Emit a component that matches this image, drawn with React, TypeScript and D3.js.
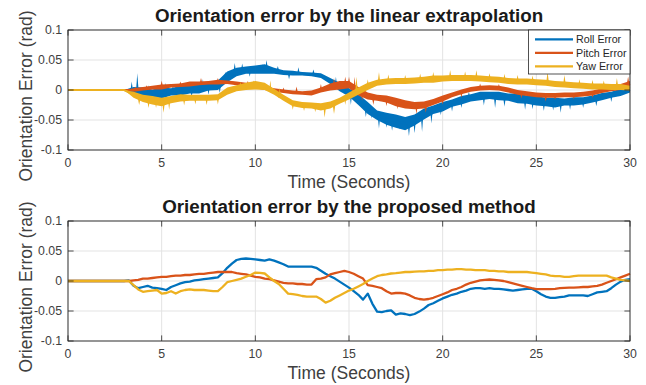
import React, { useEffect, useRef } from "react";
import * as d3 from "d3";

// sample times (seconds)
const topTime = d3.range(0, 30.001, 0.5);
const bottomTime = d3.range(0, 30.001, 0.25);

const seriesNames = ["Roll Error", "Pitch Error", "Yaw Error"];
const seriesColors = ["#0072BD", "#D95319", "#EDB120"];
const titles = [
  "Orientation error by the linear extrapolation",
  "Orientation error by the proposed method",
];
const xTicks = [0, 5, 10, 15, 20, 25, 30];
const yTicks = [-0.1, -0.05, 0, 0.05, 0.1];
const yTickLabels = ["-0.1", "-0.05", "0", "0.05", "0.1"];

// top panel: noisy signals, mean level + half spread every 0.5 s
const rollTop = [
  0, 0, 0, 0, 0, 0, 0, -0.002, -0.004, -0.005, -0.005, -0.003, -0.001, 0.001,
  0.003, 0.005, 0.008, 0.022, 0.03, 0.033, 0.034, 0.035, 0.032, 0.029, 0.028,
  0.027, 0.026, 0.024, 0.015, 0.005, -0.004, -0.016, -0.03, -0.042, -0.048,
  -0.052, -0.056, -0.05, -0.04, -0.033, -0.028, -0.022, -0.017, -0.013, -0.01,
  -0.009, -0.01, -0.012, -0.014, -0.016, -0.018, -0.02, -0.021, -0.02, -0.019,
  -0.018, -0.015, -0.011, -0.008, -0.004, 0,
];
const pitchTop = [
  0, 0, 0, 0, 0, 0, 0, 0, 0.002, 0.004, 0.005, 0.007, 0.008, 0.01, 0.011,
  0.012, 0.013, 0.013, 0.011, 0.009, 0.006, 0.003, 0, -0.002, -0.004, -0.005,
  -0.005, 0, 0.005, 0.008, 0.009, -0.002, -0.01, -0.013, -0.015, -0.02, -0.024,
  -0.026, -0.025, -0.02, -0.014, -0.008, -0.003, 0.001, 0.003, 0.004, 0.003, 0,
  -0.004, -0.006, -0.008, -0.009, -0.009, -0.008, -0.008, -0.007, -0.005,
  -0.001, 0.002, 0.005, 0.01,
];
const yawTop = [
  0, 0, 0, 0, 0, 0, 0, -0.008, -0.014, -0.017, -0.02, -0.016, -0.013, -0.013,
  -0.013, -0.013, -0.012, -0.002, 0.003, 0.006, 0.008, 0.006, -0.003, -0.013,
  -0.022, -0.025, -0.026, -0.028, -0.025, -0.018, -0.01, -0.002, 0.006, 0.012,
  0.014, 0.015, 0.015, 0.016, 0.017, 0.018, 0.019, 0.02, 0.02, 0.02, 0.019,
  0.018, 0.017, 0.015, 0.014, 0.014, 0.013, 0.012, 0.01, 0.009, 0.008, 0.007,
  0.006, 0.006, 0.005, 0.005, 0.003,
];
const rollTopSpread = [
  0, 0, 0, 0, 0, 0, 0, 0.007, 0.008, 0.006, 0.009, 0.006, 0.008, 0.007, 0.009,
  0.006, 0.008, 0.009, 0.007, 0.006, 0.007, 0.008, 0.005, 0.004, 0.004, 0.003,
  0.003, 0.004, 0.005, 0.007, 0.007, 0.009, 0.01, 0.008, 0.01, 0.011, 0.011,
  0.009, 0.009, 0.007, 0.008, 0.006, 0.007, 0.006, 0.007, 0.006, 0.007, 0.006,
  0.008, 0.007, 0.008, 0.007, 0.008, 0.006, 0.007, 0.006, 0.006, 0.006, 0.005,
  0.006, 0.004,
];
const pitchTopSpread = [
  0, 0, 0, 0, 0, 0, 0, 0.003, 0.003, 0.003, 0.004, 0.003, 0.003, 0.004, 0.003,
  0.003, 0.004, 0.003, 0.003, 0.003, 0.003, 0.003, 0.003, 0.003, 0.003, 0.003,
  0.004, 0.004, 0.006, 0.007, 0.006, 0.007, 0.006, 0.005, 0.006, 0.007, 0.007,
  0.006, 0.006, 0.005, 0.005, 0.004, 0.004, 0.004, 0.004, 0.004, 0.004, 0.004,
  0.004, 0.004, 0.004, 0.004, 0.004, 0.004, 0.004, 0.004, 0.004, 0.004, 0.004,
  0.005, 0.005,
];
const yawTopSpread = [
  0, 0, 0, 0, 0, 0, 0, 0.005, 0.006, 0.007, 0.007, 0.006, 0.006, 0.005, 0.005,
  0.005, 0.005, 0.006, 0.005, 0.006, 0.007, 0.006, 0.005, 0.005, 0.005, 0.005,
  0.005, 0.006, 0.006, 0.005, 0.006, 0.006, 0.006, 0.005, 0.005, 0.005, 0.005,
  0.005, 0.005, 0.006, 0.005, 0.005, 0.005, 0.005, 0.005, 0.005, 0.005, 0.005,
  0.005, 0.005, 0.005, 0.005, 0.005, 0.005, 0.005, 0.005, 0.005, 0.005, 0.005,
  0.005, 0.004,
];

// single spikes sticking out of the top-panel noise
const rollSpikeT = [
  3.4, 3.7, 4.0, 4.3, 4.6, 4.9, 5.2, 5.6, 5.9, 6.3, 6.6, 7.2, 7.5, 7.8, 8.1,
  8.4, 8.9, 9.3, 9.7, 10.4, 10.6, 11.2, 11.8, 12.3, 13.1, 14.3, 15.1, 15.9,
  16.2, 16.6, 17.0, 17.3, 17.7, 18.2, 18.5, 18.9, 19.4, 19.9, 20.5, 21.0, 21.4,
  22.2, 22.8, 23.3, 23.9, 24.4, 24.8, 25.4, 25.9, 26.3, 26.8, 27.5, 28.2, 29.0,
  29.6,
];
const rollSpikeV = [
  0.014, 0.028, -0.018, 0.008, -0.022, -0.02, 0.012, 0.008, -0.016, 0.012,
  -0.012, 0.018, -0.008, 0.016, -0.005, 0.03, 0.045, 0.044, 0.022, 0.043, 0.05,
  0.04, 0.018, 0.038, 0.034, 0.022, -0.025, -0.045, -0.048, -0.064, -0.063,
  -0.068, -0.066, -0.077, -0.072, -0.07, -0.056, -0.042, -0.036, -0.03, -0.003,
  -0.026, -0.03, -0.028, 0.0, -0.033, -0.032, -0.035, -0.034, -0.038, -0.033,
  -0.03, -0.027, -0.02, 0.006,
];
const pitchSpikeT = [
  3.6, 4.2, 5.0, 6.0, 7.1, 8.0, 9.6, 10.3, 11.5, 12.2, 13.5, 14.2, 14.8, 15.0,
  15.3, 15.7, 16.3, 17.0, 17.6, 18.6, 19.1, 20.0, 21.0, 22.0, 23.0, 24.2, 25.5,
  26.0, 27.0, 28.0, 28.7, 29.9,
];
const pitchSpikeV = [
  0.006, 0.008, 0.016, 0.014, 0.02, 0.02, 0.015, 0.01, 0.004, 0.006, 0.01, 0.02,
  0.022, 0.022, 0.022, -0.018, -0.025, -0.027, -0.032, -0.04, -0.038, -0.024,
  -0.013, 0.011, 0.01, -0.014, -0.019, -0.016, -0.015, -0.013, 0.003, 0.022,
];
const yawSpikeT = [
  3.8, 4.3, 4.7, 5.1, 5.4, 6.2, 6.8, 7.4, 8.0, 9.2, 9.9, 10.8, 11.3, 12.0, 12.6,
  13.2, 13.7, 14.2, 14.8, 15.4, 16.0, 16.6, 17.1, 18.0, 18.8, 19.5, 20.4, 21.2,
  21.8, 22.5, 23.3, 24.0, 24.8, 25.6, 26.5, 27.3, 28.0, 28.6, 29.3,
];
const yawSpikeV = [
  -0.025, -0.03, -0.03, -0.038, -0.033, -0.026, -0.024, -0.025, -0.024, 0.014,
  0.016, 0.016, 0.004, -0.033, -0.035, -0.037, -0.046, -0.04, -0.025, 0.022,
  0.018, 0.03, 0.026, 0.025, 0.027, 0.03, 0.033, 0.031, 0.033, 0.028, 0.027,
  0.025, 0.024, 0.03, 0.025, 0.018, 0.017, 0.016, 0.02,
];

// bottom panel, every 0.25 s (one line per second)
const rollBottom = [
  0, 0, 0, 0,
  0, 0, 0, 0,
  0, 0, 0, 0,
  0, 0.001, -0.008, -0.012,
  -0.01, -0.008, -0.011, -0.012,
  -0.013, -0.015, -0.01, -0.007,
  -0.004, -0.002, -0.001, 0.001,
  0.002, 0.003, 0.004, 0.005,
  0.006, 0.013, 0.022, 0.029,
  0.035, 0.037, 0.0375, 0.037,
  0.036, 0.035, 0.034, 0.036,
  0.034, 0.031, 0.028, 0.024,
  0.024, 0.024, 0.024, 0.024,
  0.024, 0.022, 0.017, 0.012,
  0.008, 0.004, -0.001, -0.006,
  -0.011, -0.017, -0.023, -0.031,
  -0.021, -0.038, -0.051, -0.052,
  -0.05, -0.049, -0.056, -0.054,
  -0.055, -0.057, -0.055, -0.051,
  -0.046, -0.04, -0.037, -0.033,
  -0.029, -0.026, -0.023, -0.021,
  -0.018, -0.016, -0.013, -0.012,
  -0.012, -0.013, -0.012, -0.013,
  -0.013, -0.014, -0.015, -0.016,
  -0.015, -0.014, -0.013, -0.013,
  -0.017, -0.022, -0.026, -0.028,
  -0.028, -0.027, -0.026, -0.024,
  -0.024, -0.024, -0.024, -0.025,
  -0.022, -0.019, -0.018, -0.017,
  -0.012, -0.006, -0.001, 0.002,
  0.003,
];
const pitchBottom = [
  0, 0, 0, 0,
  0, 0, 0, 0,
  0, 0, 0, 0,
  0, 0, 0.001, 0.002,
  0.004, 0.004, 0.005, 0.006,
  0.007, 0.007, 0.008, 0.009,
  0.009, 0.01, 0.01, 0.011,
  0.012, 0.012, 0.013, 0.014,
  0.015, 0.015, 0.015, 0.015,
  0.013, 0.012, 0.011, 0.009,
  0.007, 0.006, 0.004, 0.003,
  0.001, -0.001, -0.003, -0.004,
  -0.004, -0.005, -0.005, -0.006,
  -0.006, 0.003, 0.004, 0.006,
  0.011, 0.013, 0.015, 0.017,
  0.015, 0.012, 0.008, 0.004,
  -0.007, -0.008, -0.01, -0.012,
  -0.017, -0.021, -0.02, -0.02,
  -0.021, -0.024, -0.028, -0.03,
  -0.031, -0.03, -0.028, -0.025,
  -0.022, -0.019, -0.015, -0.013,
  -0.01, -0.006, -0.003, -0.001,
  0.001, 0.002, 0.0025, 0.002,
  0.001, 0, -0.002, -0.004,
  -0.006, -0.008, -0.01, -0.012,
  -0.0135, -0.0137, -0.0137, -0.0135,
  -0.013, -0.012, -0.0115, -0.011,
  -0.011, -0.0105, -0.01, -0.01,
  -0.009, -0.008, -0.006, -0.003,
  0, 0.003, 0.006, 0.009,
  0.012,
];
const yawBottom = [
  0, 0, 0, 0,
  0, 0, 0, 0,
  0, 0, 0, 0,
  0, 0, -0.007, -0.014,
  -0.018, -0.017, -0.016, -0.015,
  -0.021, -0.02, -0.017, -0.021,
  -0.017, -0.015, -0.014, -0.015,
  -0.015, -0.015, -0.016, -0.017,
  -0.017, -0.01, -0.002, 0,
  0.002, 0.004, 0.007, 0.01,
  0.014, 0.0135, 0.0125, 0.006,
  0, -0.005, -0.013, -0.021,
  -0.022, -0.023, -0.025, -0.026,
  -0.026, -0.026, -0.03, -0.036,
  -0.033, -0.028, -0.024, -0.02,
  -0.016, -0.013, -0.009, -0.005,
  0, 0.004, 0.008, 0.01,
  0.011, 0.0125, 0.013, 0.014,
  0.015, 0.015, 0.0155, 0.016,
  0.016, 0.017, 0.017, 0.018,
  0.018, 0.019, 0.019, 0.0197,
  0.0197, 0.019, 0.019, 0.018,
  0.018, 0.018, 0.017, 0.017,
  0.016, 0.016, 0.015, 0.015,
  0.015, 0.015, 0.015, 0.014,
  0.013, 0.012, 0.011, 0.009,
  0.008, 0.008, 0.007, 0.007,
  0.008, 0.009, 0.009, 0.009,
  0.009, 0.009, 0.009, 0.009,
  0.006, 0.004, 0.002, 0.001,
  0,
];

const FONT = "'Liberation Sans', Arial, Helvetica, sans-serif";
const AX = "#262626";

const OrientationErrorChart = () => {
  const ref = useRef(null);

  useEffect(() => {
    const svg = d3.select(ref.current);
    svg.selectAll("*").remove();

    const x = d3.scaleLinear().domain([0, 30]).range([68, 630]);

    const drawFrame = (top, title) => {
      const y = d3.scaleLinear().domain([-0.1, 0.1]).range([top + 120, top]);
      const g = svg.append("g");

      g.append("rect")
        .attr("x", 68).attr("y", top).attr("width", 562).attr("height", 120)
        .attr("fill", "#fff");

      g.selectAll(".gx").data(xTicks).enter().append("line")
        .attr("x1", (d) => x(d)).attr("x2", (d) => x(d))
        .attr("y1", top).attr("y2", top + 120)
        .attr("stroke", "#e3e3e3").attr("stroke-width", 1);
      g.selectAll(".gy").data(yTicks).enter().append("line")
        .attr("x1", 68).attr("x2", 630)
        .attr("y1", (d) => y(d)).attr("y2", (d) => y(d))
        .attr("stroke", "#e3e3e3").attr("stroke-width", 1);

      g.append("text")
        .attr("x", 349).attr("y", top - 8.5)
        .attr("text-anchor", "middle")
        .attr("font-family", FONT).attr("font-weight", "bold")
        .attr("font-size", 18.8).attr("fill", "#1a1a1a")
        .text(title);

      g.selectAll(".xl").data(xTicks).enter().append("text")
        .attr("x", (d) => x(d)).attr("y", top + 136.7)
        .attr("text-anchor", "middle")
        .attr("font-family", FONT).attr("font-size", 12.3).attr("fill", "#404040")
        .text((d) => d);
      g.selectAll(".yl").data(yTicks).enter().append("text")
        .attr("x", 62).attr("y", (d) => y(d) + 4.3)
        .attr("text-anchor", "end")
        .attr("font-family", FONT).attr("font-size", 12.3).attr("fill", "#404040")
        .text((d, i) => yTickLabels[i]);

      g.append("text")
        .attr("x", 349).attr("y", top + 158)
        .attr("text-anchor", "middle")
        .attr("font-family", FONT).attr("font-size", 17.5).attr("fill", "#404040")
        .text("Time (Seconds)");
      g.append("text")
        .attr("transform", `translate(31.5,${top + 66}) rotate(-90)`)
        .attr("text-anchor", "middle")
        .attr("font-family", FONT).attr("font-size", 17.5).attr("fill", "#404040")
        .text("Orientation Error (rad)");

      return { g, y };
    };

    const drawBox = (g, y, top) => {
      const tl = 5.6;
      xTicks.forEach((t) => {
        g.append("line").attr("x1", x(t)).attr("x2", x(t))
          .attr("y1", top + 120).attr("y2", top + 120 - tl)
          .attr("stroke", AX).attr("stroke-width", 0.8);
        g.append("line").attr("x1", x(t)).attr("x2", x(t))
          .attr("y1", top).attr("y2", top + tl)
          .attr("stroke", AX).attr("stroke-width", 0.8);
      });
      yTicks.forEach((v) => {
        g.append("line").attr("x1", 68).attr("x2", 68 + tl)
          .attr("y1", y(v)).attr("y2", y(v))
          .attr("stroke", AX).attr("stroke-width", 0.8);
        g.append("line").attr("x1", 630).attr("x2", 630 - tl)
          .attr("y1", y(v)).attr("y2", y(v))
          .attr("stroke", AX).attr("stroke-width", 0.8);
      });
      g.append("rect")
        .attr("x", 68).attr("y", top).attr("width", 562).attr("height", 120)
        .attr("fill", "none").attr("stroke", AX).attr("stroke-width", 0.9);
    };

    // ---- top panel ----
    const topPanel = drawFrame(30, titles[0]);
    const yT = topPanel.y;
    const bands = [
      [rollTop, rollTopSpread, rollSpikeT, rollSpikeV],
      [pitchTop, pitchTopSpread, pitchSpikeT, pitchSpikeV],
      [yawTop, yawTopSpread, yawSpikeT, yawSpikeV],
    ];
    bands.forEach(([mid, spread, st, sv], k) => {
      const rows = topTime.map((t, i) => ({ t, m: mid[i], s: spread[i] }));
      const area = d3.area()
        .x((d) => x(d.t))
        .y0((d) => yT(d.m - d.s))
        .y1((d) => yT(d.m + d.s));
      topPanel.g.append("path")
        .attr("d", area(rows))
        .attr("fill", seriesColors[k]);
      const line = d3.line().x((d) => x(d.t)).y((d) => yT(d.m));
      topPanel.g.append("path")
        .attr("d", line(rows))
        .attr("fill", "none")
        .attr("stroke", seriesColors[k])
        .attr("stroke-width", 2.2);
      topPanel.g.selectAll(null).data(st).enter().append("path")
        .attr("d", (t, i) => {
          const base = yT(mid[Math.round(t * 2)]);
          const px = x(t);
          return `M${px - 1.3},${base}L${px},${yT(sv[i])}L${px + 1.3},${base}Z`;
        })
        .attr("fill", seriesColors[k]);
    });
    drawBox(topPanel.g, yT, 30);

    // legend
    const lg = topPanel.g.append("g");
    lg.append("rect")
      .attr("x", 528.5).attr("y", 30).attr("width", 101.5).attr("height", 44)
      .attr("fill", "#fff").attr("stroke", AX).attr("stroke-width", 0.8);
    seriesNames.forEach((name, i) => {
      const ry = 39.3 + i * 13.5;
      lg.append("line")
        .attr("x1", 535).attr("x2", 573).attr("y1", ry).attr("y2", ry)
        .attr("stroke", seriesColors[i]).attr("stroke-width", 2.2);
      lg.append("text")
        .attr("x", 576).attr("y", ry + 3.8)
        .attr("font-family", FONT).attr("font-size", 10.7).attr("fill", "#262626")
        .text(name);
    });

    // ---- bottom panel ----
    const botPanel = drawFrame(221, titles[1]);
    const yB = botPanel.y;
    [rollBottom, pitchBottom, yawBottom].forEach((vals, k) => {
      const line = d3.line()
        .x((d, i) => x(bottomTime[i]))
        .y((d) => yB(d));
      botPanel.g.append("path")
        .attr("d", line(vals))
        .attr("fill", "none")
        .attr("stroke", seriesColors[k])
        .attr("stroke-width", 2.3)
        .attr("stroke-linejoin", "round");
    });
    drawBox(botPanel.g, yB, 221);
  }, []);

  return (
    <svg
      ref={ref}
      width={646}
      height={385}
      style={{ position: "absolute", left: 0, top: 0, background: "#fff" }}
    ></svg>
  );
};

export default function App() {
  return <OrientationErrorChart />;
}
